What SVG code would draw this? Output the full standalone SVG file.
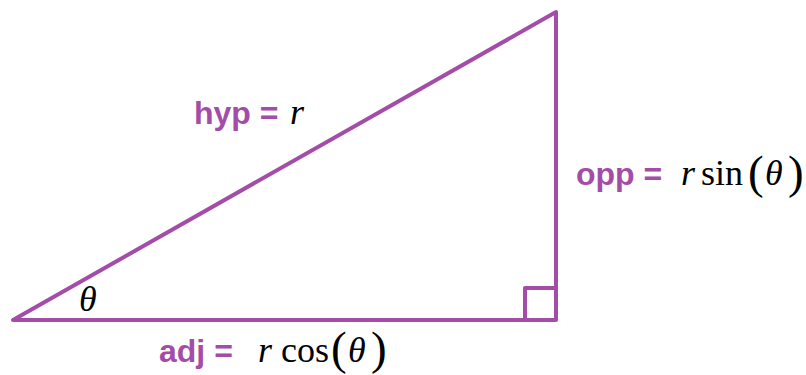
<svg xmlns="http://www.w3.org/2000/svg" width="806" height="375" viewBox="0 0 806 375">
<style>
.edge{fill:none;stroke:#A34DA8;stroke-width:4;stroke-linejoin:round;stroke-linecap:round}
.lbl{font-family:"Liberation Sans",Arial,sans-serif;font-weight:bold;font-size:32px;fill:#A34DA8}
.m{font-family:"Liberation Serif","Times New Roman","DejaVu Serif",serif;font-size:36px;fill:#000}
.i{font-style:italic}
.p{font-size:47px}
</style>
<rect width="806" height="375" fill="#fff"/>
<g id="connectors">
<path class="edge" d="M13,320 L556,12 L556,320 Z"/>
<path class="edge" d="M525,320 L525,288 L556,288"/>
</g>
<g id="hyp">
<text class="lbl" x="194" y="124">hyp =</text>
<text class="m i" x="290" y="124">r</text>
</g>
<g id="opp">
<text class="lbl" x="576" y="185">opp =</text>
<text class="m i" x="681" y="185">r</text>
<text class="m" x="701" y="185">sin</text>
<text class="m p" x="748" y="188">(</text>
<text class="m i" x="765" y="185">θ</text>
<text class="m p" x="788" y="188">)</text>
</g>
<g id="adj">
<text class="lbl" x="159" y="362">adj =</text>
<text class="m i" x="258" y="362">r</text>
<text class="m" x="281" y="362">cos</text>
<text class="m p" x="331" y="364">(</text>
<text class="m i" x="348" y="362">θ</text>
<text class="m p" x="371" y="364">)</text>
</g>
<g id="angle">
<text class="m i" x="79" y="311">θ</text>
</g>
</svg>
